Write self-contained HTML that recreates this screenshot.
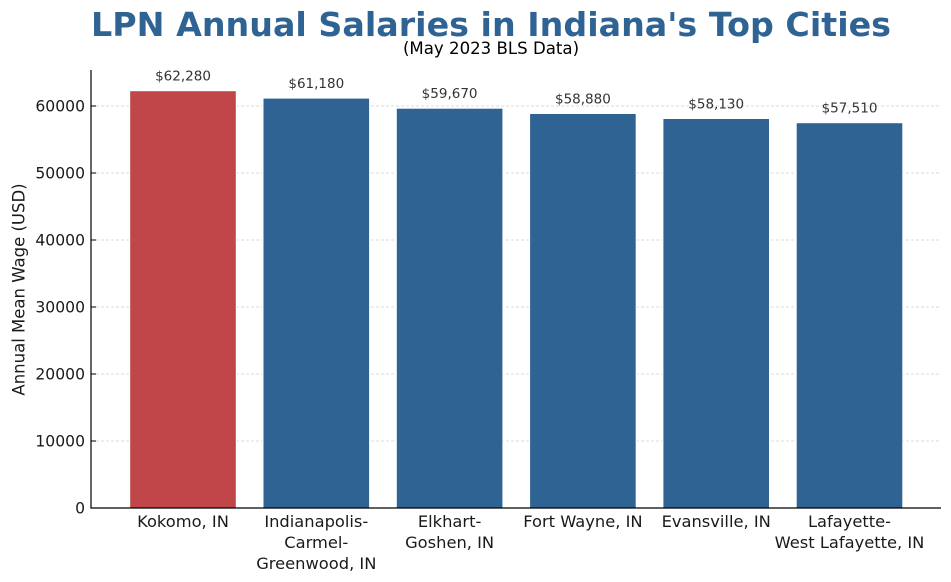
<!DOCTYPE html>
<html><head><meta charset="utf-8"><style>
html,body{margin:0;padding:0;background:#fff;}
svg{display:block;font-family:"DejaVu Sans","Liberation Sans",sans-serif;}
</style></head><body>
<svg width="951" height="582" viewBox="0 0 951 582" xmlns="http://www.w3.org/2000/svg">
<rect width="951" height="582" fill="#fff"/>
<text x="491" y="36" text-anchor="middle" font-size="32.5" font-weight="bold" fill="#2E6393" textLength="800" lengthAdjust="spacingAndGlyphs">LPN Annual Salaries in Indiana's Top Cities</text>
<text x="491" y="54" text-anchor="middle" font-size="16.6" fill="#000">(May 2023 BLS Data)</text>
<g stroke="#cfcfcf" stroke-width="0.7" stroke-dasharray="3,2">
<line x1="91" x2="941" y1="441" y2="441"/>
<line x1="91" x2="941" y1="374" y2="374"/>
<line x1="91" x2="941" y1="307" y2="307"/>
<line x1="91" x2="941" y1="240" y2="240"/>
<line x1="91" x2="941" y1="173" y2="173"/>
<line x1="91" x2="941" y1="106" y2="106"/>
</g>
<g stroke="#ffffff" stroke-width="1">
<rect x="129.7" y="90.7" width="106.6" height="417.3" fill="#C0464A"/>
<rect x="263.0" y="98.1" width="106.6" height="409.9" fill="#2F6393"/>
<rect x="396.3" y="108.2" width="106.6" height="399.8" fill="#2F6393"/>
<rect x="529.6" y="113.5" width="106.6" height="394.5" fill="#2F6393"/>
<rect x="662.9" y="118.5" width="106.6" height="389.5" fill="#2F6393"/>
<rect x="796.2" y="122.7" width="106.6" height="385.3" fill="#2F6393"/>
</g>
<g font-size="13.5" fill="#333" text-anchor="middle">
<text x="183" y="80.5">$62,280</text>
<text x="316.3" y="88">$61,180</text>
<text x="449.6" y="98">$59,670</text>
<text x="582.9" y="103.3">$58,880</text>
<text x="716.2" y="108.3">$58,130</text>
<text x="849.5" y="112.5">$57,510</text>
</g>
<line x1="91" y1="70" x2="91" y2="508.5" stroke="#000" stroke-width="1.2"/>
<line x1="90.4" y1="508" x2="941" y2="508" stroke="#000" stroke-width="1.2"/>
<g stroke="#000" stroke-width="1">
<line x1="91" x2="96" y1="441" y2="441"/>
<line x1="91" x2="96" y1="374" y2="374"/>
<line x1="91" x2="96" y1="307" y2="307"/>
<line x1="91" x2="96" y1="240" y2="240"/>
<line x1="91" x2="96" y1="173" y2="173"/>
<line x1="91" x2="96" y1="106" y2="106"/>
</g>
<g font-size="15.6" fill="#1a1a1a" text-anchor="end">
<text x="85" y="513.5">0</text>
<text x="85" y="446.5">10000</text>
<text x="85" y="379.5">20000</text>
<text x="85" y="312.5">30000</text>
<text x="85" y="245.5">40000</text>
<text x="85" y="178.5">50000</text>
<text x="85" y="111.5">60000</text>
</g>
<text transform="translate(24.5,289.5) rotate(-90)" text-anchor="middle" font-size="16.5" fill="#1a1a1a">Annual Mean Wage (USD)</text>
<g font-size="16.3" fill="#1a1a1a" text-anchor="middle">
<text x="183" y="527">Kokomo, IN</text>
<text x="316.3" y="527">Indianapolis-</text>
<text x="316.3" y="548">Carmel-</text>
<text x="316.3" y="569">Greenwood, IN</text>
<text x="449.6" y="527">Elkhart-</text>
<text x="449.6" y="548">Goshen, IN</text>
<text x="582.9" y="527">Fort Wayne, IN</text>
<text x="716.2" y="527">Evansville, IN</text>
<text x="849.5" y="527">Lafayette-</text>
<text x="849.5" y="548">West Lafayette, IN</text>
</g>
</svg>
</body></html>
